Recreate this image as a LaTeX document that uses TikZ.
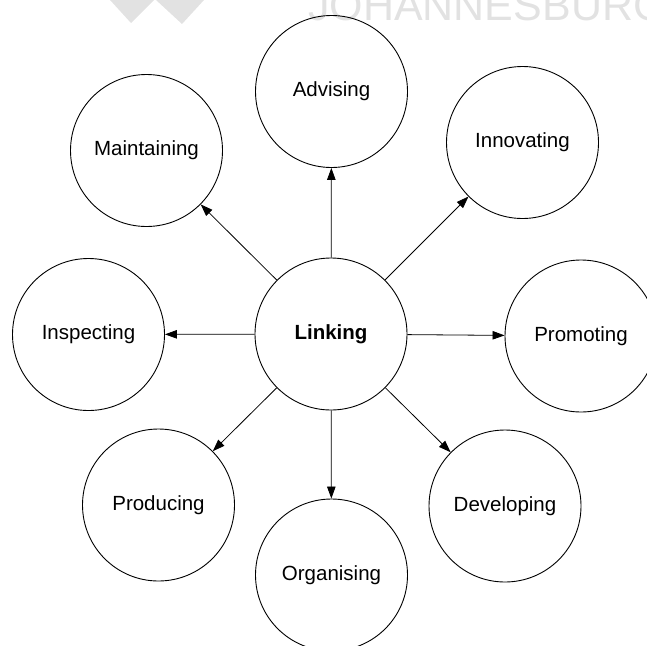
\documentclass[tikz,border=0pt]{standalone}
\usepackage{fontspec}
\setmainfont{Liberation Sans}
\usetikzlibrary{arrows.meta}
\definecolor{wm}{RGB}{226,226,226}
\tikzset{
  role/.style={circle, draw=black, line width=0.9pt, minimum size=152pt, inner sep=0pt,
    font=\fontsize{20.5}{24}\selectfont},
  hub/.style={role, font=\fontsize{20.5}{24}\selectfont\bfseries},
  link/.style={draw=black, line width=0.8pt, -{Triangle[length=12pt,width=8.5pt]}},
}
\begin{document}
\begin{tikzpicture}[x=1pt, y=-1pt]
\useasboundingbox (0,0) rectangle (647,645);
\begin{scope}
  \clip (0,0) rectangle (647,645);
  \fill[wm] (110,0) -- (154,0) -- (131,23) -- cycle;
  \fill[wm] (156,0) -- (204,0) -- (182,24) -- cycle;
  \node[anchor=base west, inner sep=0pt, text=wm, font=\fontsize{43}{43}\selectfont] (wmtext) at (308,20) {JOHANNESBURG};
\end{scope}
\node[hub]  (linking)     at (331,334)   {Linking};
\node[role] (advising)    at (331.5,91.5) {Advising};
\node[role] (maintaining) at (146.5,150.5) {Maintaining};
\node[role] (innovating)  at (522.5,142.5) {Innovating};
\node[role] (inspecting)  at (88.5,334.5) {Inspecting};
\node[role] (promoting)   at (581,336)   {Promoting};
\node[role] (producing)   at (158.5,505) {Producing};
\node[role] (developing)  at (505,506)   {Developing};
\node[role] (organising)  at (331.5,575) {Organising};
\foreach \t in {advising,maintaining,innovating,inspecting,promoting,producing,developing,organising}
  \draw[link] (linking) -- (\t);
\end{tikzpicture}
\end{document}
